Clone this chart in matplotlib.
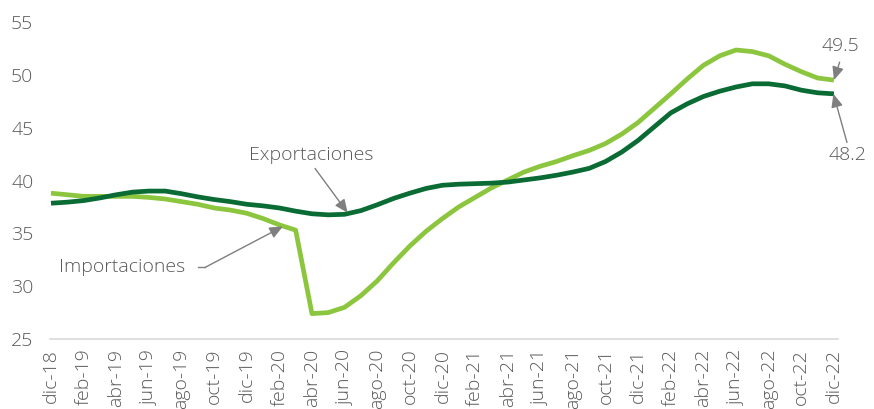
import matplotlib
matplotlib.use("Agg")
import matplotlib.pyplot as plt

# monthly series, dic-18 .. dic-22
months = [
    "dic-18", "ene-19", "feb-19", "mar-19", "abr-19", "may-19", "jun-19",
    "jul-19", "ago-19", "sep-19", "oct-19", "nov-19", "dic-19",
    "ene-20", "feb-20", "mar-20", "abr-20", "may-20", "jun-20",
    "jul-20", "ago-20", "sep-20", "oct-20", "nov-20", "dic-20",
    "ene-21", "feb-21", "mar-21", "abr-21", "may-21", "jun-21",
    "jul-21", "ago-21", "sep-21", "oct-21", "nov-21", "dic-21",
    "ene-22", "feb-22", "mar-22", "abr-22", "may-22", "jun-22",
    "jul-22", "ago-22", "sep-22", "oct-22", "nov-22", "dic-22",
]

exportaciones = [
    37.85, 37.95, 38.1, 38.35, 38.65, 38.9, 39.0, 39.0, 38.75, 38.45,
    38.2, 38.0, 37.75, 37.6, 37.4, 37.1, 36.85, 36.75, 36.8, 37.15,
    37.7, 38.3, 38.8, 39.25, 39.55, 39.65, 39.7, 39.75, 39.85, 40.05,
    40.25, 40.5, 40.8, 41.15, 41.8, 42.7, 43.8, 45.1, 46.4, 47.25,
    47.95, 48.45, 48.85, 49.15, 49.15, 48.95, 48.55, 48.3, 48.2,
]

importaciones = [
    38.8, 38.65, 38.5, 38.5, 38.5, 38.5, 38.4, 38.25, 38.0, 37.75,
    37.4, 37.2, 36.9, 36.4, 35.8, 35.3, 27.4, 27.5, 28.0, 29.1,
    30.5, 32.2, 33.8, 35.2, 36.4, 37.5, 38.4, 39.3, 40.05, 40.8,
    41.35, 41.8, 42.35, 42.85, 43.5, 44.4, 45.5, 46.85, 48.2, 49.6,
    50.9, 51.8, 52.35, 52.2, 51.8, 51.0, 50.3, 49.7, 49.5,
]

DARK = "#0a6b34"
LIGHT = "#8cc63f"
TXT = "#595959"
ARROW = "#7f7f7f"
FS = 14

plt.rcParams["font.family"] = ["Open Sans", "DejaVu Sans"]
plt.rcParams["font.weight"] = "light"

fig = plt.figure(figsize=(8.74, 4.09), dpi=100)
ax = fig.add_axes([50 / 874, 70 / 409, 788 / 874, 317 / 409])

x = list(range(len(months)))
ax.plot(x, exportaciones, color=DARK, lw=3.4, solid_capstyle="butt", zorder=3)
ax.plot(x, importaciones, color=LIGHT, lw=3.4, solid_capstyle="butt", zorder=2)

ax.set_xlim(-0.06, 48.25)
ax.set_ylim(25, 55)
ax.set_yticks(range(25, 56, 5))
ax.set_xticks(x[::2])
ax.set_xticklabels(months[::2], rotation=90)
ax.tick_params(axis="both", length=0, labelsize=FS, labelcolor=TXT)
ax.tick_params(axis="y", pad=12)
ax.tick_params(axis="x", pad=7)

for side in ["top", "right", "left"]:
    ax.spines[side].set_visible(False)
ax.spines["bottom"].set_color("#d9d9d9")
ax.spines["bottom"].set_linewidth(1.2)

arrow = dict(arrowstyle="-|>,head_length=0.8,head_width=0.35", color=ARROW,
             lw=1.0, shrinkA=0, shrinkB=0)

# series labels
ax.annotate("", xy=(18.19, 36.94), xytext=(16.19, 41.14), arrowprops=arrow)
ax.text(15.94, 42.37, "Exportaciones", fontsize=FS, color=TXT,
        ha="center", va="center")

ax.plot([9.0, 9.44], [31.77, 31.77], color=ARROW, lw=1.0)
ax.annotate("", xy=(14.22, 35.65), xytext=(9.44, 31.77), arrowprops=arrow)
ax.text(4.35, 31.77, "Importaciones", fontsize=FS, color=TXT,
        ha="center", va="center")

# end values
ax.annotate("", xy=(48, importaciones[-1]), xytext=(48.35, 51.2),
            arrowprops=arrow, annotation_clip=False)
ax.text(48.4, 52.75, f"{importaciones[-1]:.1f}", fontsize=FS, color=TXT,
        ha="center", va="center")

ax.annotate("", xy=(47.97, exportaciones[-1]), xytext=(48.8, 43.6),
            arrowprops=arrow, annotation_clip=False)
ax.text(48.85, 42.4, f"{exportaciones[-1]:.1f}", fontsize=FS, color=TXT,
        ha="center", va="center")

fig.savefig("out.png", dpi=100)
